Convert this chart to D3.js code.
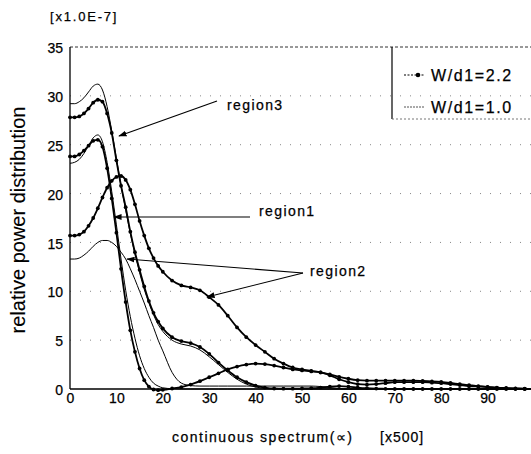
<!DOCTYPE html>
<html><head><meta charset="utf-8">
<script src="https://cdn.jsdelivr.net/npm/d3@7"></script>
<style>
body{margin:0;background:#fff}
text{font-family:"Liberation Sans",Arial,Helvetica,sans-serif;fill:#000;stroke:#000;stroke-width:0.25px}
</style>
</head><body>
<svg id="c" width="531" height="454"></svg>
<script>
// ---- data ----
const xs = [0,1,2,3,4,5,6,7,8,9,10,11,12,13,14,15,16,17,18,19,20,
  22,24,26,28,30,32,34,36,38,40,42,44,46,48,50,52,54,56,58,60,
  62,64,66,68,70,72,74,76,78,80,82,84,86,88,90,92,94,96,98,100];

// region3
const r3_wide = [27.8,27.8,27.9,28.2,28.7,29.3,29.6,29.4,28.2,26.2,23.4,20.8,18.6,16.1,14.0,12.2,10.5,9.0,7.8,6.9,6.2,
  5.3,4.9,4.7,4.3,3.6,2.7,1.9,1.2,0.7,0.35,0.15,0.05,0.03,0.03,0.05,0.08,0.15,0.25,0.3,0.25,
  0.15,0.08,0.04,0.02,0,0,0,0,0,0,0,0,0,0,0,0,0,0,0,0];
const r3_narrow = [29.2,29.2,29.4,29.8,30.4,31.0,31.2,30.6,28.9,26.4,23.6,20.8,18.3,15.9,13.8,11.9,10.2,8.8,7.6,6.6,5.9,
  5.0,4.6,4.4,4.0,3.3,2.5,1.7,1.0,0.5,0.2,0.08,0.03,0,0,0,0,0,0,0,0,
  0,0,0,0,0,0,0,0,0,0,0,0,0,0,0,0,0,0,0,0];
// region1
const r1_wide = [23.8,23.8,24.0,24.4,24.9,25.4,25.5,24.8,22.6,19.5,16.0,12.3,8.9,6.0,3.8,2.1,0.9,0.25,-0.05,-0.12,-0.08,
  0.05,0.2,0.45,0.8,1.2,1.6,2.0,2.3,2.5,2.6,2.55,2.4,2.2,2.0,1.9,1.8,1.7,1.4,1.0,0.7,
  0.5,0.45,0.5,0.6,0.7,0.7,0.7,0.7,0.65,0.6,0.5,0.4,0.3,0.25,0.2,0.12,0.07,0.04,0.02,0];
const r1_narrow = [23.1,23.2,23.5,24.1,24.9,25.7,26.0,25.3,23.2,20.2,16.8,13.3,10.1,7.4,5.2,3.4,2.1,1.2,0.6,0.3,0.12,
  0.03,0,0,0,0,0,0,0,0,0,0,0,0,0,0,0,0,0,0,0,
  0,0,0,0,0,0,0,0,0,0,0,0,0,0,0,0,0,0,0,0];
// region2
const r2_wide = [15.7,15.7,15.8,16.1,16.7,17.5,18.5,19.6,20.6,21.3,21.7,21.8,21.4,20.4,18.9,17.2,15.7,14.4,13.4,12.6,12.0,
  11.1,10.6,10.4,10.1,9.4,8.6,7.5,6.3,5.3,4.5,3.8,3.1,2.6,2.2,2.0,1.85,1.7,1.5,1.25,1.05,
  0.9,0.85,0.85,0.85,0.85,0.85,0.85,0.82,0.78,0.72,0.62,0.5,0.4,0.3,0.22,0.15,0.1,0.06,0.03,0.01];
const r2_narrow = [13.3,13.3,13.4,13.7,14.1,14.6,15.0,15.2,15.2,15.0,14.6,14.0,13.3,12.3,11.2,10.0,8.8,7.5,6.3,5.0,3.9,
  1.7,0.6,0.35,0.3,0.3,0.3,0.3,0.3,0.3,0.3,0.3,0.3,0.3,0.3,0.3,0.3,0.25,0.15,0.05,0,
  0,0,0,0,0,0,0,0,0,0,0,0,0,0,0,0,0,0,0,0];

const xTicks = [0,10,20,30,40,50,60,70,80,90];
const yTicks = [0,5,10,15,20,25,30,35];
const gridY = [5,10,15,20,25,30];
const legendLabels = ["W/d1=2.2","W/d1=1.0"];
const regionLabels = ["region3","region1","region2"];

// ---- chart ----
const svg = d3.select("#c");
const x = d3.scaleLinear().domain([0,100]).range([70,534]);
const y = d3.scaleLinear().domain([0,35]).range([389,47]);

// grid (sparse dots)
svg.append("g").selectAll("line").data(gridY).join("line")
  .attr("x1",x(0)).attr("x2",531).attr("y1",d=>y(d)).attr("y2",d=>y(d))
  .attr("stroke","#888").attr("stroke-width",1).attr("stroke-dasharray","1,9");

// top border
svg.append("line").attr("x1",x(0)).attr("x2",531).attr("y1",y(35)).attr("y2",y(35))
  .attr("stroke","#333").attr("stroke-width",1).attr("stroke-dasharray","3,2");

// series
const line = d3.line().x(d=>x(d[0])).y(d=>y(d[1])).curve(d3.curveMonotoneX);
const series = [
  {v:r3_wide, dots:true},{v:r3_narrow, dots:false},
  {v:r1_wide, dots:true},{v:r1_narrow, dots:false},
  {v:r2_wide, dots:true},{v:r2_narrow, dots:false}
];
const gS = svg.append("g");
series.forEach(s=>{
  const pts = xs.map((xv,i)=>[xv,s.v[i]]);
  gS.append("path").attr("d",line(pts)).attr("fill","none").attr("stroke","#000")
    .attr("stroke-width",s.dots?1.8:1);
  if(s.dots){
    gS.append("g").selectAll("circle").data(pts).join("circle")
      .attr("cx",d=>x(d[0])).attr("cy",d=>y(d[1])).attr("r",1.9).attr("fill","#000");
  }
});

// axes lines
svg.append("line").attr("x1",x(0)).attr("x2",x(0)).attr("y1",y(35)).attr("y2",y(0))
  .attr("stroke","#000").attr("stroke-width",1.3);
svg.append("line").attr("x1",x(0)).attr("x2",531).attr("y1",y(0)).attr("y2",y(0))
  .attr("stroke","#000").attr("stroke-width",1.5);

// tick labels via axes
const ax = svg.append("g").attr("transform",`translate(0,${y(0)})`)
  .call(d3.axisBottom(x).tickValues(xTicks).tickSize(0).tickPadding(4).tickFormat(d3.format("d")));
ax.select(".domain").remove();
ax.selectAll("text").style("font-size","14px").style("font-family","'Liberation Sans',Arial,sans-serif").attr("fill","#000");
const ay = svg.append("g").attr("transform",`translate(${x(0)},0)`)
  .call(d3.axisLeft(y).tickValues(yTicks).tickSize(0).tickPadding(7).tickFormat(d3.format("d")));
ay.select(".domain").remove();
ay.selectAll("text").style("font-size","14px").style("font-family","'Liberation Sans',Arial,sans-serif").attr("fill","#000").attr("dy","0.4em");

// axis titles
svg.append("text").attr("x",50).attr("y",21).style("font-size","13px").style("letter-spacing","1.8px").text("[x1.0E-7]");
svg.append("text").attr("transform","translate(25,220) rotate(-90)").attr("text-anchor","middle")
  .style("font-size","20px").style("stroke-width","0.1px").text("relative power distribution");
svg.append("text").attr("x",172).attr("y",442).style("font-size","14px").style("letter-spacing","1.5px").text("continuous spectrum(\u221D)");
svg.append("text").attr("x",380).attr("y",442).style("font-size","14px").style("letter-spacing","1px").text("[x500]");

// legend
svg.append("line").attr("x1",392).attr("x2",392).attr("y1",y(35)).attr("y2",119).attr("stroke","#000").attr("stroke-width",1.2);
svg.append("line").attr("x1",392).attr("x2",531).attr("y1",119).attr("y2",119).attr("stroke","#777").attr("stroke-width",1).attr("stroke-dasharray","2,2");
const legY = [75,107];
svg.append("line").attr("x1",404).attr("x2",425).attr("y1",legY[0]).attr("y2",legY[0]).attr("stroke","#000").attr("stroke-width",1.2).attr("stroke-dasharray","2,1.5");
svg.append("circle").attr("cx",418).attr("cy",legY[0]).attr("r",2.3).attr("fill","#000");
svg.append("line").attr("x1",404).attr("x2",425).attr("y1",legY[1]).attr("y2",legY[1]).attr("stroke","#555").attr("stroke-width",1).attr("stroke-dasharray","2,1");
legendLabels.forEach((t,i)=>{
  svg.append("text").attr("x",431).attr("y",legY[i]+5.5).style("font-size","16px").style("letter-spacing","1.6px").text(t);
});

// annotations
const defs = svg.append("defs");
defs.append("marker").attr("id","ah").attr("viewBox","0 0 10 10").attr("refX",9).attr("refY",5)
  .attr("markerWidth",7).attr("markerHeight",7).attr("orient","auto")
  .append("path").attr("d","M0,1.5 L10,5 L0,8.5 Z").attr("fill","#000");
const arrows = [
  [217,101,119,136],
  [250,217,114,217],
  [303,273,127,259],
  [303,273,207,297]
];
svg.append("g").selectAll("line").data(arrows).join("line")
  .attr("x1",d=>d[0]).attr("y1",d=>d[1]).attr("x2",d=>d[2]).attr("y2",d=>d[3])
  .attr("stroke","#000").attr("stroke-width",1.2).attr("marker-end","url(#ah)");
const labPos = [[227,110],[259,216],[310,276]];
regionLabels.forEach((t,i)=>{
  svg.append("text").attr("x",labPos[i][0]).attr("y",labPos[i][1]).style("font-size","14px").style("letter-spacing","1.4px").text(t);
});
</script>
</body></html>
